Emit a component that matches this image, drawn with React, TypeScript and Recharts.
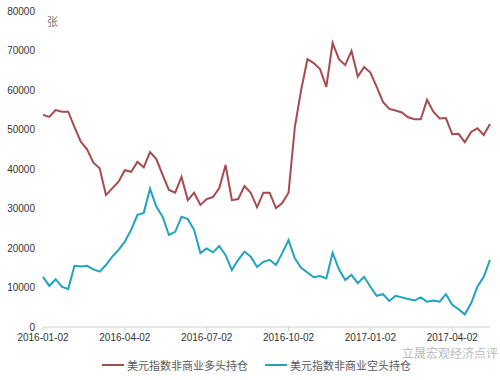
import React from 'react';
import { LineChart, Line, XAxis, YAxis, Legend } from 'recharts';

// weekly positions, 2016-01-02 .. 2017-05
const longPos = [
  53700, 53200, 54900, 54500, 54500, 50600, 46900, 45000, 41600, 40200,
  33400, 35100, 36800, 39700, 39300, 41800, 40400, 44300, 42500, 38500,
  34700, 34000, 38000, 32100, 34000, 30900, 32400, 32900, 35200, 41000,
  32100, 32400, 35700, 34000, 30300, 34000, 34000, 30100, 31400, 34000,
  50600, 60000, 67800, 66800, 65300, 60800, 71900, 67800, 66300, 69900,
  63400, 65800, 64400, 60800, 57000, 55200, 54800, 54300, 53100, 52600,
  52600, 57500, 54500, 52800, 52900, 48800, 48900, 46800, 49400, 50300,
  48600, 51400,
];

const shortPos = [
  12700, 10400, 12100, 10200, 9600, 15500, 15300, 15500, 14600, 14000,
  15700, 17800, 19500, 21600, 24600, 28400, 28900, 35000, 30500, 27900,
  23300, 24100, 27900, 27300, 24600, 18700, 19900, 18900, 20500, 18200,
  14400, 17000, 19100, 17800, 15200, 16500, 17000, 15700, 18700, 22000,
  17400, 15000, 13800, 12600, 12900, 12300, 18800, 14600, 11900, 13200,
  11100, 12700, 10200, 7900, 8300, 6600, 7900, 7500, 7100, 6700,
  7500, 6400, 6700, 6400, 8300, 5600, 4500, 3200, 6000, 10200,
  12700, 17000,
];

const tickIdx = [0, 13, 26, 39, 52, 65];
const tickLabels = ['2016-01-02', '2016-04-02', '2016-07-02', '2016-10-02', '2017-01-02', '2017-04-02'];
const yTicks = [0, 10000, 20000, 30000, 40000, 50000, 60000, 70000, 80000];

const LONG_NAME = '美元指数非商业多头持仓';
const SHORT_NAME = '美元指数非商业空头持仓';

const data = longPos.map((v, i) => ({ i, long: v, short: shortPos[i] }));

const LegendContent = () => (
  <div style={{ height: 22, display: 'flex', alignItems: 'center', fontFamily: '"Noto Sans CJK SC"', fontSize: 11, color: '#595959' }}>
    <span style={{ display: 'inline-block', width: 22, height: 2, background: '#A64B4F', marginLeft: 102, marginRight: 3 }} />
    <span>{LONG_NAME}</span>
    <span style={{ display: 'inline-block', width: 22, height: 2, background: '#1FA3BF', marginLeft: 17, marginRight: 3 }} />
    <span>{SHORT_NAME}</span>
  </div>
);

export default function App() {
  const tickStyle = { fontSize: 10, fill: '#333', fontFamily: '"Liberation Sans", Arial' };
  return (
    <div style={{ position: 'absolute', left: 0, top: 0, width: 500, height: 380, background: '#fff' }}>
      <LineChart width={500} height={380} data={data} margin={{ top: 11, right: 10, left: 0, bottom: 4 }}>
        <XAxis
          dataKey="i"
          type="number"
          domain={[0, 71]}
          ticks={tickIdx}
          tickFormatter={(v: number) => tickLabels[tickIdx.indexOf(v)] ?? ''}
          height={27}
          tick={tickStyle}
          stroke="#d0d0d0"
          tickSize={4}
          tickMargin={3}
          interval={0}
        />
        <YAxis
          domain={[0, 80000]}
          ticks={yTicks}
          width={43}
          axisLine={false}
          tickLine={false}
          tick={tickStyle}
          interval={0}
        />
        <Legend verticalAlign="bottom" content={<LegendContent />} />
        <Line dataKey="long" name={LONG_NAME} stroke="#A64B4F" strokeWidth={2} dot={false} isAnimationActive={false} />
        <Line dataKey="short" name={SHORT_NAME} stroke="#1FA3BF" strokeWidth={2} dot={false} isAnimationActive={false} />
      </LineChart>
      <div style={{ position: 'absolute', left: 47, top: 13, fontSize: 11, color: '#777', fontFamily: '"Noto Sans CJK SC"' }}>张</div>
      <div style={{ position: 'absolute', left: 402, top: 344, fontSize: 12, color: '#aaa', fontFamily: '"Noto Sans CJK SC"', opacity: 0.8 }}>立晟宏观经济点评</div>
    </div>
  );
}
